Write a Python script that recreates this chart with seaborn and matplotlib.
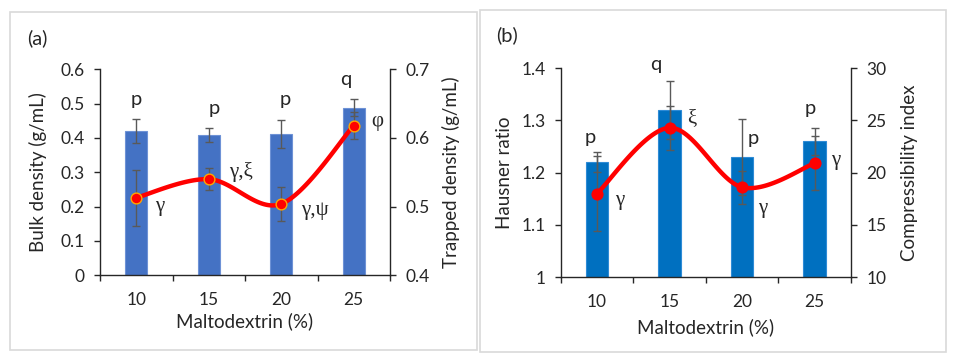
import numpy as np
import pandas as pd
import matplotlib
matplotlib.use("Agg")
import matplotlib.pyplot as plt
from matplotlib.patches import Rectangle
import seaborn as sns

# data
conc = ["10", "15", "20", "25"]

bulk = [0.420, 0.409, 0.411, 0.488]
bulk_err = [0.036, 0.020, 0.041, 0.025]
bulk_letters = ["p", "p", "p", "q"]
trapped = [0.513, 0.540, 0.504, 0.618]
trapped_err = [0.041, 0.016, 0.025, 0.020]
trapped_letters = ["γ", "γ,ξ", "γ,ψ", "φ"]

hausner = [1.22, 1.32, 1.23, 1.26]
hausner_err = [0.019, 0.055, 0.072, 0.026]
hausner_letters = ["p", "q", "p", "p"]
compress = [18.0, 24.3, 18.6, 20.9]
compress_err = [3.6, 2.1, 1.6, 2.6]
compress_letters = ["γ", "ξ", "γ", "γ"]

sns.set_style("ticks")
plt.rcParams["font.family"] = ["Lato", "DejaVu Sans"]
plt.rcParams["axes.linewidth"] = 1.0

W, H = 955, 360
fig = plt.figure(figsize=(W / 100, H / 100), dpi=100)


def px_axes(x0, y0, x1, y1):
    return fig.add_axes([x0 / W, 1 - y1 / H, (x1 - x0) / W, (y1 - y0) / H])


def smooth(xs, ys, n=40):
    # excel-like smoothed line (bezier with catmull-rom control points)
    p = np.column_stack([xs, ys]).astype(float)
    pts = np.vstack([p[0], p, p[-1]])
    out = []
    t = np.linspace(0, 1, n)[:, None]
    for i in range(1, len(pts) - 2):
        p0, p1, p2, p3 = pts[i - 1], pts[i], pts[i + 1], pts[i + 2]
        c1 = p1 + (p2 - p0) / 6
        c2 = p2 - (p3 - p1) / 6
        seg = ((1 - t) ** 3) * p1 + 3 * ((1 - t) ** 2) * t * c1 + 3 * (1 - t) * t ** 2 * c2 + t ** 3 * p2
        out.append(seg)
    out = np.vstack(out)
    return out[:, 0], out[:, 1]


def panel(ax, bars, berr, bletters, line, lerr, lletters, bar_color, edge_color,
          mk_edge, ylim, yticks, yfmt, ylim2, yticks2, ylab, ylab2, tag, tag_pos,
          pads, bar_off, line_off):
    df = pd.DataFrame({"conc": conc, "val": bars})
    sns.barplot(data=df, x="conc", y="val", color=bar_color, width=0.31,
                saturation=1, edgecolor=edge_color, linewidth=0.8, ax=ax, zorder=2)
    xs = np.arange(len(conc))
    ax.errorbar(xs, bars, yerr=berr, fmt="none", ecolor="#595959",
                elinewidth=1.0, capsize=3, capthick=1.0, zorder=3)
    ax.set_xlim(-0.5, 3.5)
    ax.set_ylim(*ylim)
    ax.set_yticks(yticks)
    ax.set_yticklabels([yfmt(v) for v in yticks])
    ax.set_xticks(xs)
    ax.set_xticks(np.arange(-0.5, 4.0, 1.0), minor=True)
    ax.tick_params(axis="x", which="major", length=0, pad=12, labelsize=12.5)
    ax.tick_params(axis="x", which="minor", length=4.5, width=1.0, direction="out")
    ax.tick_params(axis="y", length=4, width=1.0, pad=7, labelsize=12.5, direction="out")
    ax.set_xlabel("Maltodextrin (%)", fontsize=13.5, labelpad=pads[0])
    ax.set_ylabel(ylab, fontsize=13.5, labelpad=pads[1])
    for s in ["top", "right"]:
        ax.spines[s].set_visible(False)
    for i, t in enumerate(bletters):
        ax.annotate(t, (xs[i], bars[i] + berr[i]), xytext=bar_off[i],
                    textcoords="offset points", ha="center", va="center",
                    fontsize=14.5)

    ax2 = ax.twinx()
    sx, sy = smooth(xs, line)
    ax2.plot(sx, sy, color="#FF0000", lw=3.2, solid_capstyle="round", zorder=3)
    ax2.errorbar(xs, line, yerr=lerr, fmt="none", ecolor="#595959",
                 elinewidth=1.0, capsize=3, capthick=1.0, zorder=2)
    sns.scatterplot(x=xs, y=line, color="#FF0000", edgecolor=mk_edge, s=60,
                    linewidth=1.0, ax=ax2, zorder=4)
    ax2.set_ylim(*ylim2)
    ax2.set_yticks(yticks2)
    ax2.tick_params(axis="y", length=4, width=1.0, pad=7, labelsize=12.5, direction="out")
    ax2.set_ylabel(ylab2, fontsize=13.5, labelpad=pads[2])
    for s in ["top", "left", "bottom"]:
        ax2.spines[s].set_visible(False)
    for i, t in enumerate(lletters):
        ax2.annotate(t, (xs[i], line[i]), xytext=line_off[i],
                     textcoords="offset points", ha="center", va="center",
                     fontsize=15, family=["Liberation Serif", "DejaVu Serif"])
    ax.text(tag_pos[0], tag_pos[1], tag, transform=ax.transAxes, fontsize=14.5,
            ha="center", va="center")
    return ax2


# panel frames
fig.patches.append(Rectangle((10 / W, 1 - 350 / H), 467 / W, 338 / H,
                             transform=fig.transFigure, fill=False,
                             edgecolor="#D9D9D9", lw=1.2))
fig.patches.append(Rectangle((480 / W, 1 - 352 / H), 466 / W, 342 / H,
                             transform=fig.transFigure, fill=False,
                             edgecolor="#D9D9D9", lw=1.2))

axa = px_axes(100, 69.3, 390, 275.3)
panel(axa, bulk, bulk_err, bulk_letters, trapped, trapped_err, trapped_letters,
      "#4472C4", "#6E92D6", "#FFA500",
      (0, 0.6), [0, 0.1, 0.2, 0.3, 0.4, 0.5, 0.6],
      lambda v: "0" if v == 0 else f"{v:.1f}",
      (0.4, 0.7), [0.4, 0.5, 0.6, 0.7],
      "Bulk density (g/mL)", "Trapped density (g/mL)", "(a)", (-0.215, 1.15),
      (3, 9.5, 9),
      [(0, 14), (4, 14), (3, 15), (-6, 14)],
      [(17, -6), (23, 5), (24, -5), (17, 3)])

axb = px_axes(560.7, 68.3, 851, 277)
panel(axb, hausner, hausner_err, hausner_letters, compress, compress_err,
      compress_letters, "#0070C0", "#2E8BD6", "#FF0000",
      (1, 1.4), [1, 1.1, 1.2, 1.3, 1.4],
      lambda v: "1" if v == 1 else f"{v:.1f}",
      (10, 30), [10, 15, 20, 25, 30],
      "Hausner ratio", "Compressibility index", "(b)", (-0.185, 1.16),
      (6, 6, 10.5),
      [(-5, 11), (-10, 12), (8, -14), (-3, 14)],
      [(16, -5), (16, 7), (15, -15), (15, 2)])

fig.savefig("out.png", dpi=100)
